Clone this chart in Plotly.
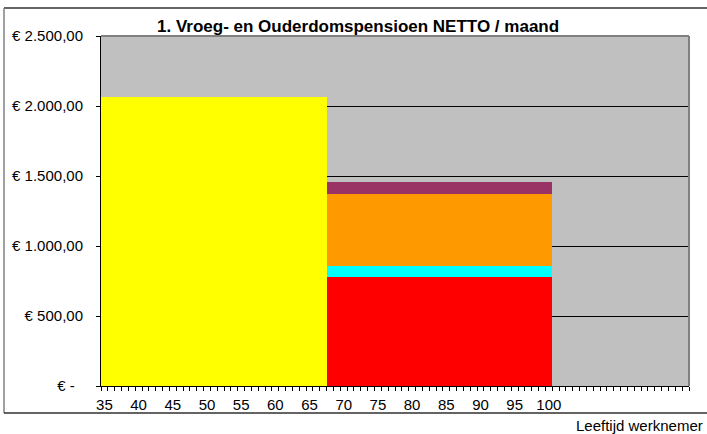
import plotly.graph_objects as go

ages = list(range(35, 121))
yellow_age_end = 67
pension_age_end = 100

yellow_value = 2064   # netto salaris / vroegpensioen
red_value = 780       # AOW
cyan_value = 79
orange_value = 516
purple_value = 84

y_tickvals = [0, 500, 1000, 1500, 2000, 2500]
y_ticktext = ["€ -\u00a0\u00a0", "€ 500,00", "€ 1.000,00", "€ 1.500,00", "€ 2.000,00", "€ 2.500,00"]
x_tickvals = list(range(35, 101, 5))

def series(val, lo, hi):
    return [val if lo <= a <= hi else None for a in ages]

yellow = series(yellow_value, 35, yellow_age_end)
red = series(red_value, yellow_age_end + 1, pension_age_end)
cyan = series(cyan_value, yellow_age_end + 1, pension_age_end)
orange = series(orange_value, yellow_age_end + 1, pension_age_end)
purple = series(purple_value, yellow_age_end + 1, pension_age_end)

fig = go.Figure()
for vals, col in [(yellow, "#FFFF00"), (red, "#FF0000"), (cyan, "#00FFFF"),
                  (orange, "#FF9900"), (purple, "#993366")]:
    fig.add_trace(go.Bar(x=ages, y=vals, marker=dict(color=col, line=dict(width=0)),
                         width=1.0, showlegend=False, hoverinfo="skip"))

FONT = "Liberation Sans, Arial, sans-serif"
L, R, T, B = 101, 18, 36, 48
W, H = 707, 434
pw, ph = W - L - R, H - T - B

def px(x):
    return (x - L) / pw

def py(y):
    return (H - B - y) / ph

fig.update_layout(
    width=W, height=H,
    margin=dict(l=L, r=R, t=T, b=B, pad=0),
    barmode="stack", bargap=0,
    paper_bgcolor="white", plot_bgcolor="#C0C0C0",
    font=dict(family=FONT, size=15, color="black"),
    xaxis=dict(range=[34.5, 120.5], tickmode="array", tickvals=x_tickvals,
               ticktext=[str(v) for v in x_tickvals], ticks="", showgrid=False,
               showline=True, linecolor="black", linewidth=1, zeroline=False,
               tickfont=dict(size=15, family=FONT), ticklabelstandoff=5,
               minor=dict(tickmode="linear", tick0=34.5, dtick=1, ticks="outside",
                          ticklen=4, tickcolor="black", tickwidth=1, showgrid=False)),
    yaxis=dict(range=[0, 2500], tickmode="array", tickvals=y_tickvals, ticktext=y_ticktext,
               ticks="outside", ticklen=4, tickcolor="black", showgrid=True,
               gridcolor="black", gridwidth=1, showline=True, linecolor="black",
               linewidth=1, zeroline=False, tickfont=dict(size=15, family=FONT),
               ticklabelstandoff=10),
    shapes=[
        dict(type="line", xref="paper", yref="paper", x0=0, x1=1, y0=1, y1=1,
             line=dict(color="#808080", width=2)),
        dict(type="line", xref="paper", yref="paper", x0=1, x1=1, y0=0, y1=1,
             line=dict(color="#808080", width=2)),
        dict(type="line", xref="paper", yref="paper", x0=px(4), x1=px(712), y0=py(8), y1=py(8),
             line=dict(color="#303030", width=1.5)),
        dict(type="line", xref="paper", yref="paper", x0=px(4), x1=px(4), y0=py(8), y1=py(413),
             line=dict(color="#808080", width=1.5)),
        dict(type="line", xref="paper", yref="paper", x0=px(4), x1=px(712), y0=py(413), y1=py(413),
             line=dict(color="#303030", width=1.5)),
    ],
    annotations=[
        dict(text="<b>1. Vroeg- en Ouderdomspensioen NETTO / maand</b>", xref="paper", yref="paper",
             x=px(358), y=py(26), xanchor="center", yanchor="middle", showarrow=False,
             font=dict(size=17, family=FONT)),
        dict(text="Leeftijd werknemer", xref="paper", yref="paper",
             x=px(705), y=py(425), xanchor="right", yanchor="middle", showarrow=False,
             font=dict(size=15, family=FONT)),
    ],
)

fig.write_html("out.html", config={"displayModeBar": False},
               post_script="document.body.style.margin='0px';")
